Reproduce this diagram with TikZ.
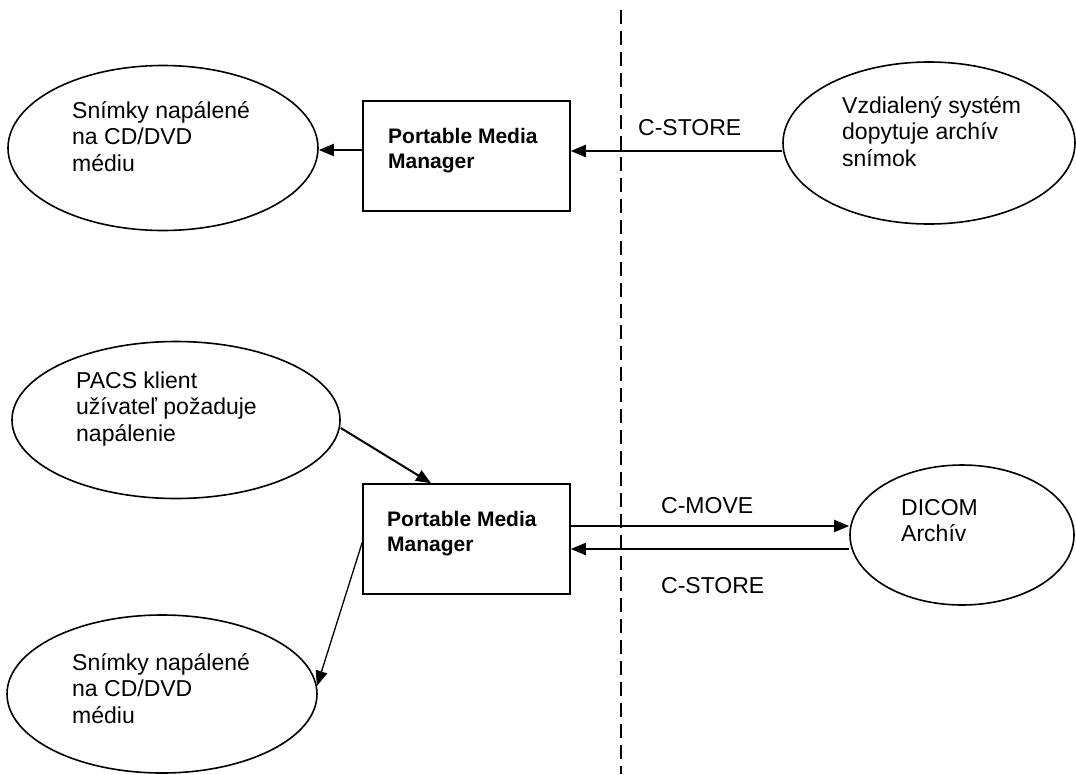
\documentclass[tikz,border=0pt]{standalone}
\usepackage{fontspec}
\setmainfont{Liberation Sans}
\usetikzlibrary{arrows.meta,calc,shapes.geometric}
\newcommand{\mylines}[1]{\begin{tabular}[t]{@{}l@{}}#1\end{tabular}}
\tikzset{
  oval/.style={draw=black, line width=1.6pt, ellipse, inner sep=0pt},
  pmmbox/.style={draw=black, line width=1.5pt, rectangle, inner sep=0pt},
  txt/.style={anchor=base west, inner sep=0pt, font=\fontsize{23}{26.5}\selectfont},
  boldtxt/.style={anchor=base west, inner sep=0pt, font=\fontsize{21}{25}\selectfont\bfseries},
  arr/.style={line width=2pt, -{Triangle[length=15pt,width=12pt]}},
  thinarr/.style={line width=1.3pt, -{Triangle[length=15pt,width=12pt]}},
  divider/.style={line width=1.5pt, dash pattern=on 14pt off 7pt}
}
\begin{document}
\begin{tikzpicture}[x=1pt,y=-1pt]
\useasboundingbox (0,0) rectangle (1076,774);
\fill[white] (0,0) rectangle (1076,774);

% divider
\coordinate (dtop) at (621,10);
\coordinate (dbot) at (621,774);
\draw[divider] (dtop) -- (dbot);

% top row
\node[oval, minimum width=310pt, minimum height=165pt] (e1) at (163,148) {};
\node[txt] (e1t) at (72,118) {\mylines{Snímky napálené\\na CD/DVD\\médiu}};
\node[pmmbox, minimum width=207pt, minimum height=110pt] (pmm1) at (466.5,156) {};
\node[boldtxt] (pmm1t) at (388,143) {\mylines{Portable Media\\Manager}};
\node[oval, minimum width=292pt, minimum height=162pt] (vz) at (929,143) {};
\node[txt] (vzt) at (842,113) {\mylines{Vzdialený systém\\dopytuje archív\\snímok}};
\node[txt] (cs1) at (638,135) {C-STORE};

\draw[arr] (pmm1.west |- 0,150) -- (e1.east |- 0,150);
\draw[arr] (vz.west |- 0,151) -- (pmm1.east |- 0,151);

% bottom row
\node[oval, minimum width=328pt, minimum height=157pt] (pacs) at (176,420) {};
\node[txt] (pacst) at (76,388) {\mylines{PACS klient\\užívateľ požaduje\\napálenie}};
\node[pmmbox, minimum width=207pt, minimum height=110pt] (pmm2) at (466.5,539) {};
\node[boldtxt] (pmm2t) at (387,526) {\mylines{Portable Media\\Manager}};
\node[oval, minimum width=224pt, minimum height=140pt] (dicom) at (962,535) {};
\node[txt] (dicomt) at (901,515) {\mylines{DICOM\\Archív}};
\node[oval, minimum width=310pt, minimum height=158pt] (e2) at (162,694) {};
\node[txt] (e2t) at (72,670) {\mylines{Snímky napálené\\na CD/DVD\\médiu}};
\node[txt] (cmove) at (661,513) {C-MOVE};
\node[txt] (cs2) at (661,593) {C-STORE};

\draw[arr] (pacs.east |- 0,428) -- ($(pmm2.north west)!0.33!(pmm2.north east)$);
\draw[arr] (pmm2.east |- 0,526) -- (dicom.west |- 0,526);
\draw[arr] (dicom.west |- 0,549) -- (pmm2.east |- 0,549);
\draw[thinarr] ($(pmm2.north west)!0.53!(pmm2.south west)$) -- (e2.3);
\end{tikzpicture}
\end{document}
